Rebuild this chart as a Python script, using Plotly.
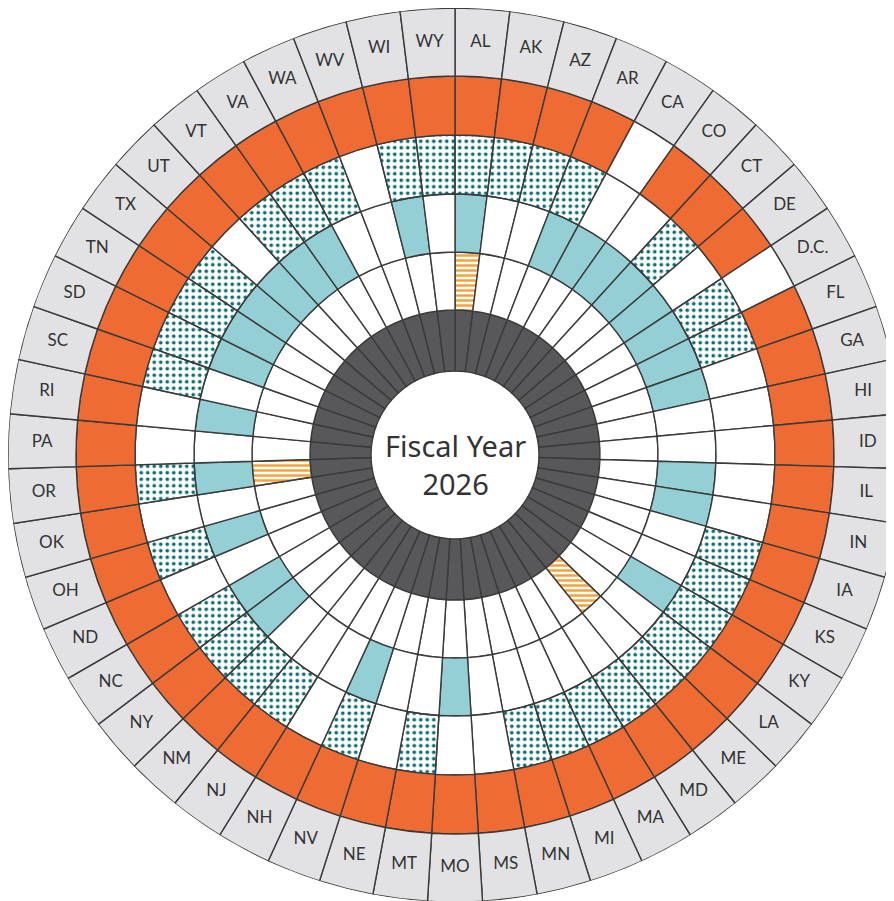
import plotly.graph_objects as go

states = ["AL","AK","AZ","AR","CA","CO","CT","DE","D.C.","FL","GA","HI","ID","IL","IN",
          "IA","KS","KY","LA","ME","MD","MA","MI","MN","MS","MO","MT","NE","NV","NH","NJ",
          "NM","NY","NC","ND","OH","OK","OR","PA","RI","SC","SD","TN","TX","UT","VT","VA",
          "WA","WV","WI","WY"]

striped_states = ["AL","ME","OR"]
teal_states = ["AL","AR","CA","CO","CT","DE","D.C.","FL","GA","IL","IN","KY","MO","NV",
               "NY","NC","OH","OR","RI","SD","TN","TX","UT","VT","VA","WI"]
dotted_states = ["AL","AK","AZ","AR","CT","D.C.","FL","IA","KS","KY","LA","ME","MD","MA","MI",
                 "MN","MT","NV","NJ","NM","NY","NC","OH","OR","SC","SD","TN","TX","VT","VA",
                 "WA","WI","WY"]
orange_states = [s for s in states if s not in ("CA","D.C.")]

# ring radii
R_HOLE, R_DARK, R_STRIPE, R_TEAL, R_DOT, R_ORANGE, R_OUT = 84, 145, 203, 261, 320, 379, 447

LINE = dict(color="#3a3a3a", width=1.4)
ORANGE = "#ee6b33"
TEAL = "#93cfd4"
DARK = "#58585a"
GRAY = "#e2e2e4"
DOT = "#0f6f74"
STRIPE = "#f6a23a"

fig = go.Figure()
n = len(states)


def ring(base, top, colors, shapes=None, size=6, solidity=0.3):
    marker = dict(color=colors, line=LINE)
    if shapes is not None:
        marker["pattern"] = dict(shape=shapes, fgcolor=colors, bgcolor=["white"] * n,
                                 fgopacity=1, size=size, solidity=solidity,
                                 fillmode="replace")
    fig.add_trace(go.Barpolar(theta=states, r=[top - base] * n, base=base,
                              marker=marker, hoverinfo="skip", showlegend=False))


ring(R_HOLE, R_DARK, [DARK] * n)
ring(R_DARK, R_STRIPE, [STRIPE if s in striped_states else "white" for s in states],
     shapes=["-" if s in striped_states else "" for s in states], size=5, solidity=0.5)
ring(R_STRIPE, R_TEAL, [TEAL if s in teal_states else "white" for s in states])
ring(R_TEAL, R_DOT, [DOT if s in dotted_states else "white" for s in states],
     shapes=["." if s in dotted_states else "" for s in states], size=6.5, solidity=0.26)
ring(R_DOT, R_ORANGE, [ORANGE if s in orange_states else "white" for s in states])
ring(R_ORANGE, R_OUT, [GRAY] * n)

fig.add_trace(go.Scatterpolar(theta=states, r=[(R_ORANGE + R_OUT) / 2] * n,
                              mode="text", text=states,
                              textfont=dict(family="Lato", size=17, color="#333333"),
                              hoverinfo="skip", showlegend=False))

fig.update_layout(
    width=894, height=901,
    margin=dict(l=0, r=0, t=0, b=0),
    paper_bgcolor="white",
    polar=dict(
        domain=dict(x=[0, 1], y=[0.0078, 1]),
        bgcolor="white",
        radialaxis=dict(range=[0, R_OUT], visible=False),
        angularaxis=dict(direction="clockwise", rotation=90 - 180 / n,
                         visible=False, categoryorder="array", categoryarray=states),
        bargap=0,
    ),
    annotations=[dict(text="Fiscal Year<br>2026", x=0.5, y=(0.0078 + 1) / 2,
                      xref="paper", yref="paper", showarrow=False, yshift=-10,
                      font=dict(family="Noto Sans", size=29, color="#333333"))],
)

fig.write_html("out.html")
